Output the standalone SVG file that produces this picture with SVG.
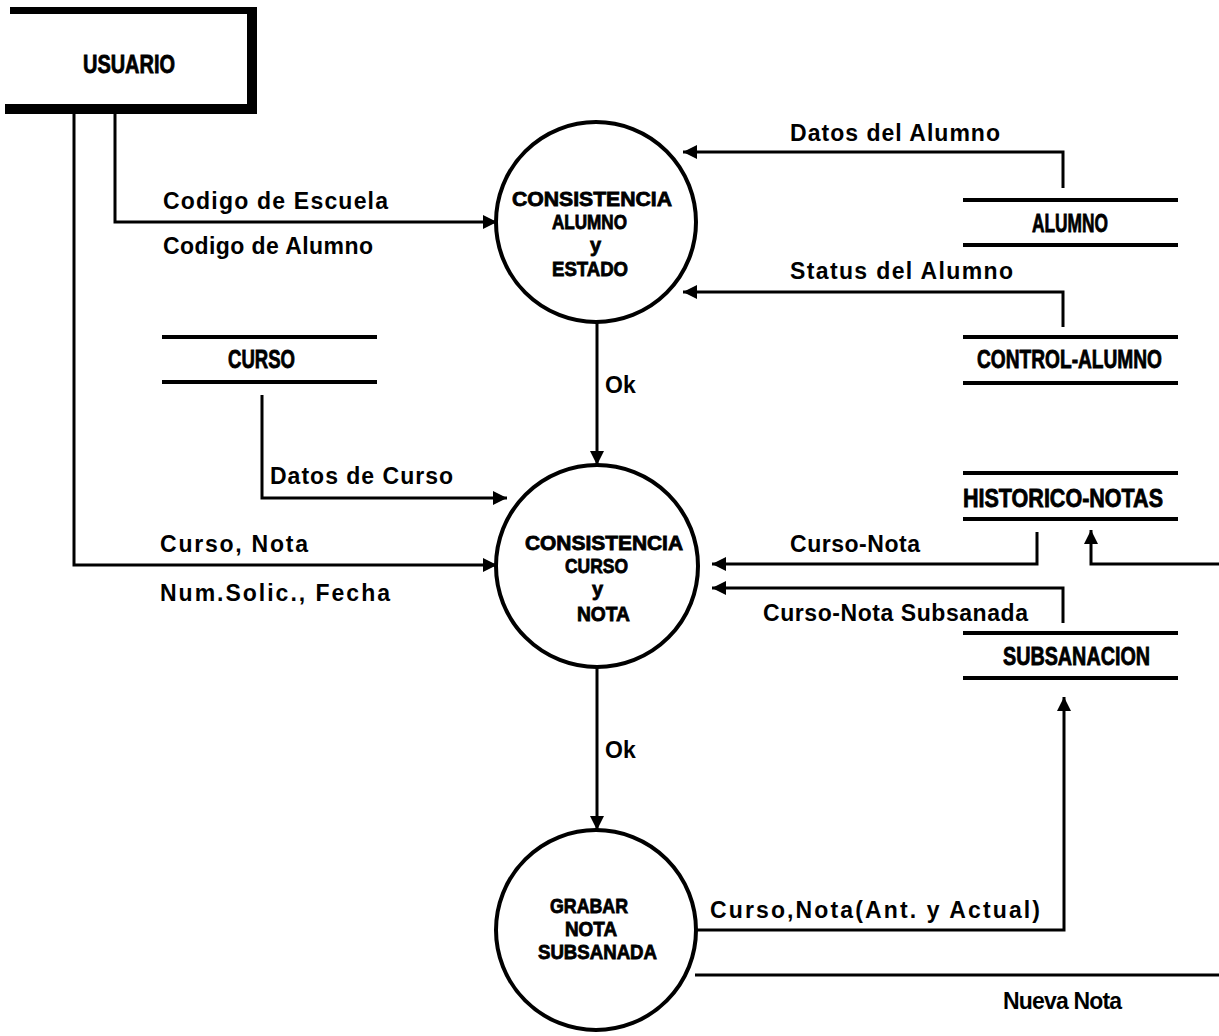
<svg xmlns="http://www.w3.org/2000/svg" width="1219" height="1036" viewBox="0 0 1219 1036">
  <defs>
    <marker id="arrow" markerUnits="userSpaceOnUse" markerWidth="16" markerHeight="16" refX="14" refY="7" orient="auto">
      <path d="M0,0 L14,7 L0,14 Z" fill="#000"/>
    </marker>
    <style>
      .lbl { font-family: "Liberation Sans", Arial, sans-serif; font-weight: bold; font-size: 23px; fill: #000; }
      .name { font-family: "Liberation Sans", Arial, sans-serif; font-weight: bold; font-size: 25px; fill: #000; stroke: #000; stroke-width: 0.8; }
      .pname { font-family: "Liberation Sans", Arial, sans-serif; font-weight: bold; font-size: 20px; fill: #000; stroke: #000; stroke-width: 0.8; }
      .proc { fill: none; stroke: #000; stroke-width: 4; }
      .store line { stroke: #000; stroke-width: 4; }
      .flow { fill: none; stroke: #000; stroke-width: 3; }
    </style>
  </defs>
  <rect width="1219" height="1036" fill="#fff"/>

  <!-- external entity -->
  <g id="usuario">
    <rect x="10" y="7" width="247" height="7" fill="#000"/>
    <rect x="247" y="7" width="10" height="107" fill="#000"/>
    <rect x="5" y="104" width="252" height="10" fill="#000"/>
    <text class="name" x="83" y="73" textLength="92" lengthAdjust="spacingAndGlyphs">USUARIO</text>
  </g>

  <!-- processes -->
  <g id="proc-consistencia-alumno">
    <circle class="proc" cx="596" cy="222" r="100"/>
    <text class="pname" x="512" y="206" textLength="160" lengthAdjust="spacingAndGlyphs">CONSISTENCIA</text>
    <text class="pname" x="552" y="229" textLength="75" lengthAdjust="spacingAndGlyphs">ALUMNO</text>
    <text class="pname" x="590" y="252">y</text>
    <text class="pname" x="552" y="276" textLength="76" lengthAdjust="spacingAndGlyphs">ESTADO</text>
  </g>
  <g id="proc-consistencia-curso">
    <circle class="proc" cx="597" cy="566" r="101"/>
    <text class="pname" x="525" y="550" textLength="158" lengthAdjust="spacingAndGlyphs">CONSISTENCIA</text>
    <text class="pname" x="565" y="573" textLength="63" lengthAdjust="spacingAndGlyphs">CURSO</text>
    <text class="pname" x="592" y="596">y</text>
    <text class="pname" x="577" y="621" textLength="53" lengthAdjust="spacingAndGlyphs">NOTA</text>
  </g>
  <g id="proc-grabar">
    <circle class="proc" cx="596" cy="930" r="100"/>
    <text class="pname" x="550" y="913" textLength="78" lengthAdjust="spacingAndGlyphs">GRABAR</text>
    <text class="pname" x="565" y="936" textLength="52" lengthAdjust="spacingAndGlyphs">NOTA</text>
    <text class="pname" x="538" y="959" textLength="119" lengthAdjust="spacingAndGlyphs">SUBSANADA</text>
  </g>

  <!-- data stores -->
  <g id="store-curso" class="store">
    <line x1="162" y1="337" x2="377" y2="337"/>
    <line x1="162" y1="382" x2="377" y2="382"/>
    <text class="name" x="228" y="368" textLength="67" lengthAdjust="spacingAndGlyphs">CURSO</text>
  </g>
  <g id="store-alumno" class="store">
    <line x1="963" y1="200" x2="1178" y2="200"/>
    <line x1="963" y1="245" x2="1178" y2="245"/>
    <text class="name" x="1032" y="232" textLength="76" lengthAdjust="spacingAndGlyphs">ALUMNO</text>
  </g>
  <g id="store-control-alumno" class="store">
    <line x1="963" y1="337" x2="1178" y2="337"/>
    <line x1="963" y1="383" x2="1178" y2="383"/>
    <text class="name" x="977" y="368" textLength="185" lengthAdjust="spacingAndGlyphs">CONTROL-ALUMNO</text>
  </g>
  <g id="store-historico-notas" class="store">
    <line x1="963" y1="473" x2="1178" y2="473"/>
    <line x1="963" y1="519" x2="1178" y2="519"/>
    <text class="name" x="963" y="507" textLength="200" lengthAdjust="spacingAndGlyphs">HISTORICO-NOTAS</text>
  </g>
  <g id="store-subsanacion" class="store">
    <line x1="963" y1="633" x2="1178" y2="633"/>
    <line x1="963" y1="678" x2="1178" y2="678"/>
    <text class="name" x="1003" y="665" textLength="147" lengthAdjust="spacingAndGlyphs">SUBSANACION</text>
  </g>

  <!-- data flows -->
  <g id="flows">
    <path class="flow" d="M115 114 V222 H497" marker-end="url(#arrow)"/>
    <path class="flow" d="M74 114 V565 H497" marker-end="url(#arrow)"/>
    <path class="flow" d="M262 395 V498 H507" marker-end="url(#arrow)"/>
    <path class="flow" d="M1063 188 V152 H683" marker-end="url(#arrow)"/>
    <path class="flow" d="M1063 327 V292 H683" marker-end="url(#arrow)"/>
    <path class="flow" d="M597 322 V465" marker-end="url(#arrow)"/>
    <path class="flow" d="M1037 532 V564 H712" marker-end="url(#arrow)"/>
    <path class="flow" d="M1063 623 V588 H712" marker-end="url(#arrow)"/>
    <path class="flow" d="M597 668 V830" marker-end="url(#arrow)"/>
    <path class="flow" d="M695 930 H1064 V697" marker-end="url(#arrow)"/>
    <path class="flow" d="M1219 564 H1091 V530" marker-end="url(#arrow)"/>
    <path class="flow" d="M695 975 H1219"/>

    <text class="lbl" x="163" y="209" textLength="225" lengthAdjust="spacing">Codigo de Escuela</text>
    <text class="lbl" x="163" y="254" textLength="210" lengthAdjust="spacing">Codigo de Alumno</text>
    <text class="lbl" x="270" y="484" textLength="183" lengthAdjust="spacing">Datos de Curso</text>
    <text class="lbl" x="160" y="552" textLength="148" lengthAdjust="spacing">Curso, Nota</text>
    <text class="lbl" x="160" y="601" textLength="230" lengthAdjust="spacing">Num.Solic., Fecha</text>
    <text class="lbl" x="790" y="141" textLength="210" lengthAdjust="spacing">Datos del Alumno</text>
    <text class="lbl" x="790" y="279" textLength="223" lengthAdjust="spacing">Status del Alumno</text>
    <text class="lbl" x="605" y="393">Ok</text>
    <text class="lbl" x="605" y="758">Ok</text>
    <text class="lbl" x="790" y="552" textLength="130" lengthAdjust="spacing">Curso-Nota</text>
    <text class="lbl" x="763" y="621" textLength="265" lengthAdjust="spacing">Curso-Nota Subsanada</text>
    <text class="lbl" x="710" y="918" textLength="330" lengthAdjust="spacing">Curso,Nota(Ant. y Actual)</text>
    <text class="lbl" x="1003" y="1009" textLength="119" lengthAdjust="spacing">Nueva Nota</text>
  </g>
</svg>
